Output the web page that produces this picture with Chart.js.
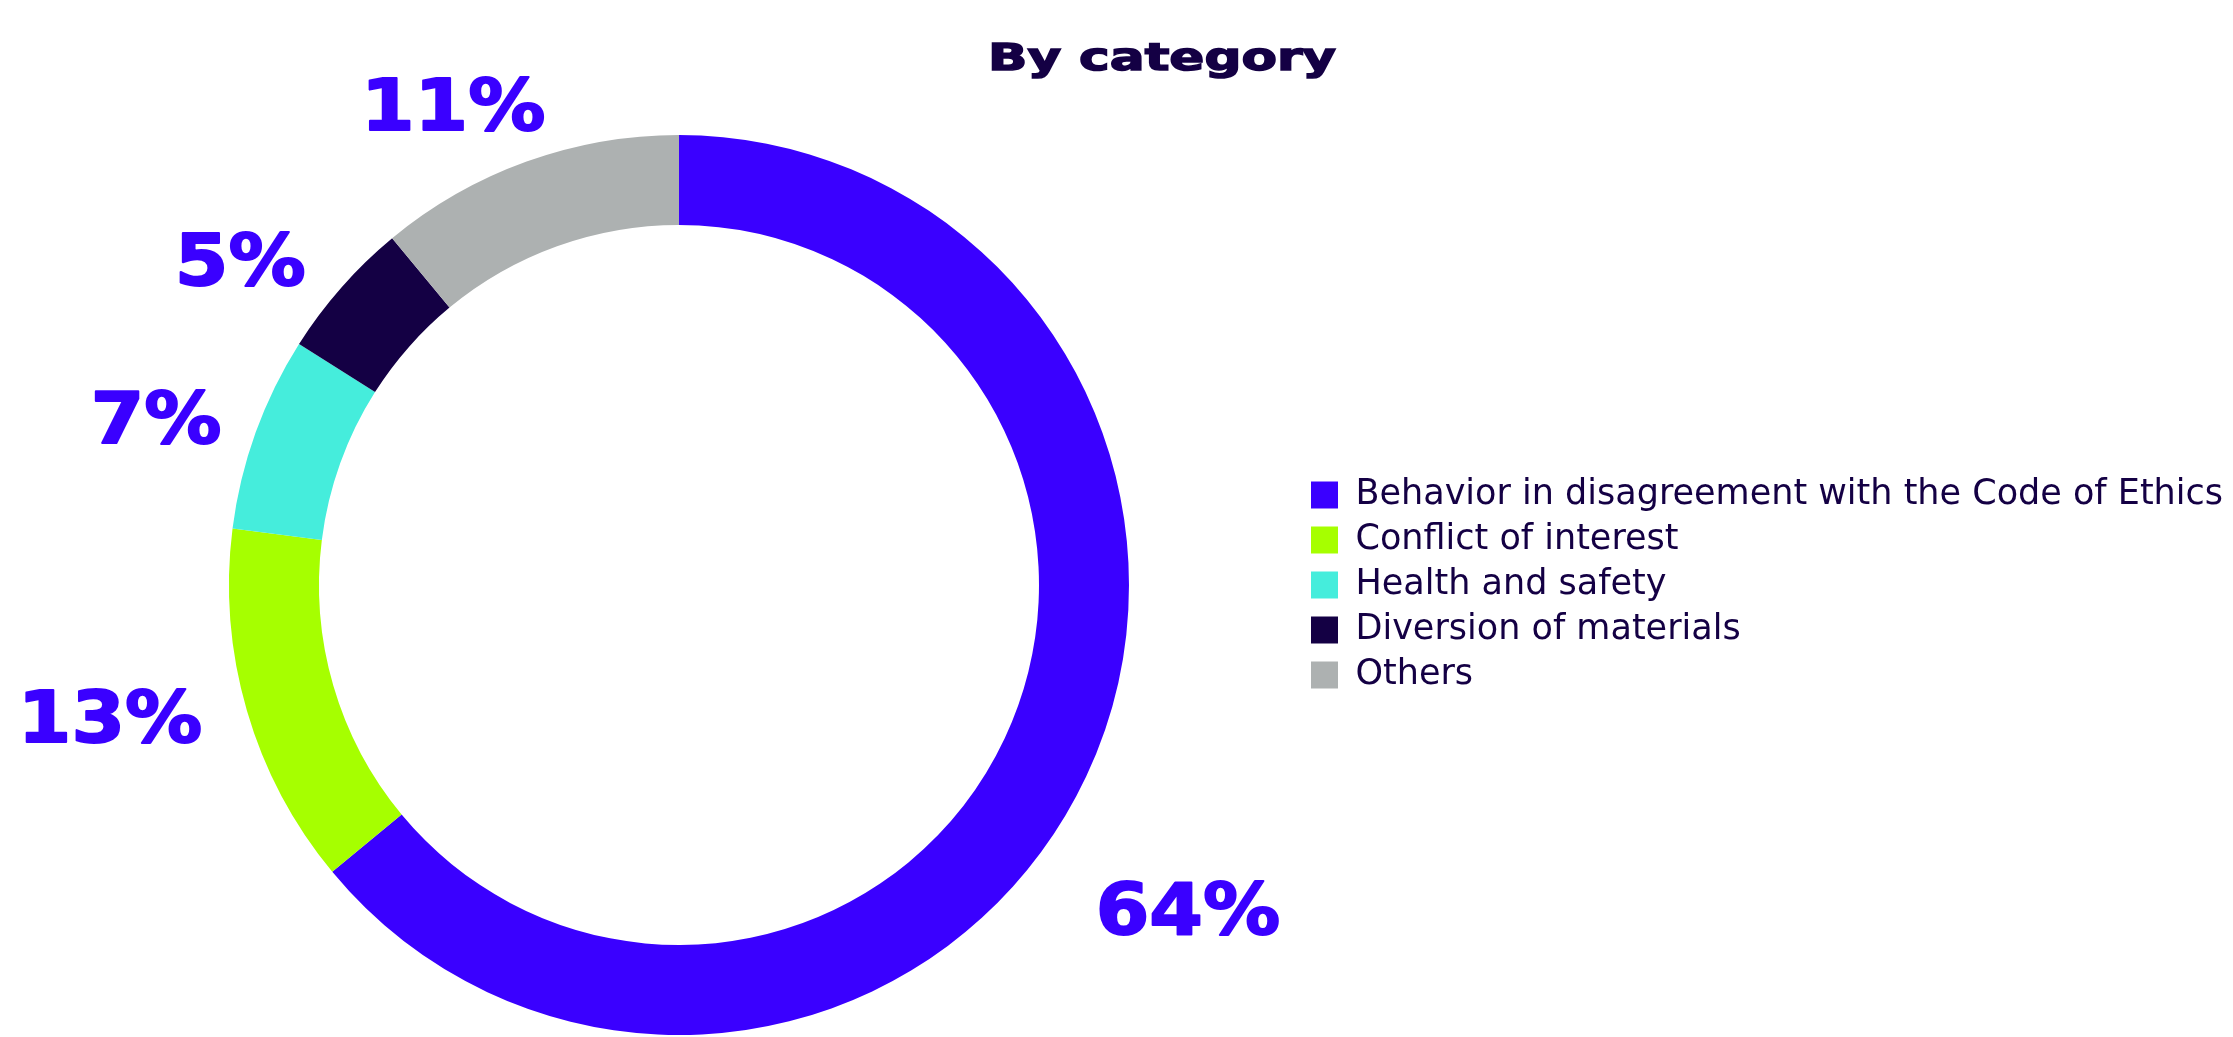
<!DOCTYPE html>
<html>
<head>
<meta charset="utf-8">
<title>By category</title>
<script src="https://cdn.jsdelivr.net/npm/chart.js@4.4.1/dist/chart.umd.min.js"></script>
<style>
  html, body { margin: 0; padding: 0; background: #ffffff; }
  #wrap { position: relative; width: 2233px; height: 1037px; }
</style>
</head>
<body>
<div id="wrap"><canvas id="by-category"></canvas></div>
<script>
const chartTitle = 'By category';
const categories = [
  'Behavior in disagreement with the Code of Ethics',
  'Conflict of interest',
  'Health and safety',
  'Diversion of materials',
  'Others'
];
const shares = [64, 13, 7, 5, 11];
const sliceColors = ['#3a00ff', '#a6ff00', '#45eddc', '#140044', '#adb1b1'];

const percentLabels = shares.map(v => v + '%');

// big percentage figures outside the ring, placed from each arc's angle
const outsideLabels = {
  id: 'outsideLabels',
  afterDatasetsDraw(chart, args, opts) {
    const ctx = chart.ctx;
    const arcs = chart.getDatasetMeta(0).data;
    ctx.save();
    ctx.font = opts.font;
    ctx.fillStyle = opts.color;
    ctx.strokeStyle = opts.color;
    ctx.lineWidth = opts.weight;
    ctx.lineJoin = 'round';
    ctx.textAlign = 'center';
    ctx.textBaseline = 'alphabetic';
    arcs.forEach((arc, i) => {
      const p = arc.getProps(['x', 'y', 'startAngle', 'endAngle', 'outerRadius'], true);
      // hand-placed in the original, so each label gets a small angular nudge
      const mid = (p.startAngle + p.endAngle) / 2 + (opts.nudge[i] || 0) * Math.PI / 180;
      const r = p.outerRadius * opts.distance[i];
      ctx.save();
      ctx.translate(p.x + Math.cos(mid) * r, p.y + Math.sin(mid) * r + opts.capShift);
      ctx.scale(opts.stretch, 1);
      ctx.fillText(percentLabels[i], 0, 0);
      ctx.strokeText(percentLabels[i], 0, 0);
      ctx.restore();
    });
    ctx.restore();
  }
};

// wide heading, drawn with a horizontal stretch
const stretchedTitle = {
  id: 'stretchedTitle',
  afterDraw(chart, args, opts) {
    const ctx = chart.ctx;
    ctx.save();
    ctx.font = opts.font;
    ctx.fillStyle = opts.color;
    ctx.strokeStyle = opts.color;
    ctx.lineWidth = opts.weight;
    ctx.textAlign = 'center';
    ctx.textBaseline = 'alphabetic';
    ctx.translate(chart.width * opts.xFrac, opts.baseline);
    ctx.scale(opts.stretch, 1);
    ctx.fillText(opts.text, 0, 0);
    ctx.strokeText(opts.text, 0, 0);
    ctx.restore();
  }
};

const canvas = document.getElementById('by-category');
const ctx = canvas.getContext('2d');

new Chart(ctx, {
  type: 'doughnut',
  data: {
    labels: categories,
    datasets: [{
      data: shares,
      backgroundColor: sliceColors,
      borderWidth: 0
    }]
  },
  options: {
    responsive: true,
    maintainAspectRatio: false,
    animation: false,
    cutout: '80%',
    layout: { padding: { top: 135, bottom: 2, left: 57, right: 0 } },
    plugins: {
      legend: {
        position: 'right',
        align: 'center',
        labels: {
          boxWidth: 27,
          boxHeight: 27,
          padding: 10,
          color: '#140044',
          font: { family: '"DejaVu Sans"', size: 35, weight: '400' }
        }
      },
      tooltip: { enabled: false },
      outsideLabels: {
        font: 'bold 72px "DejaVu Sans"',
        color: '#3a00ff',
        weight: 2,
        stretch: 1.07,
        capShift: 27,
        nudge: [7.1, 3.3, -1.9, -4.7, -5.3],
        distance: [1.338, 1.297, 1.221, 1.216, 1.183]
      },
      stretchedTitle: {
        text: chartTitle,
        font: 'bold 38px "DejaVu Sans"',
        color: '#140044',
        weight: 1.5,
        xFrac: 0.5204,
        baseline: 70,
        stretch: 1.36
      }
    }
  },
  plugins: [outsideLabels, stretchedTitle]
});
</script>
</body>
</html>
